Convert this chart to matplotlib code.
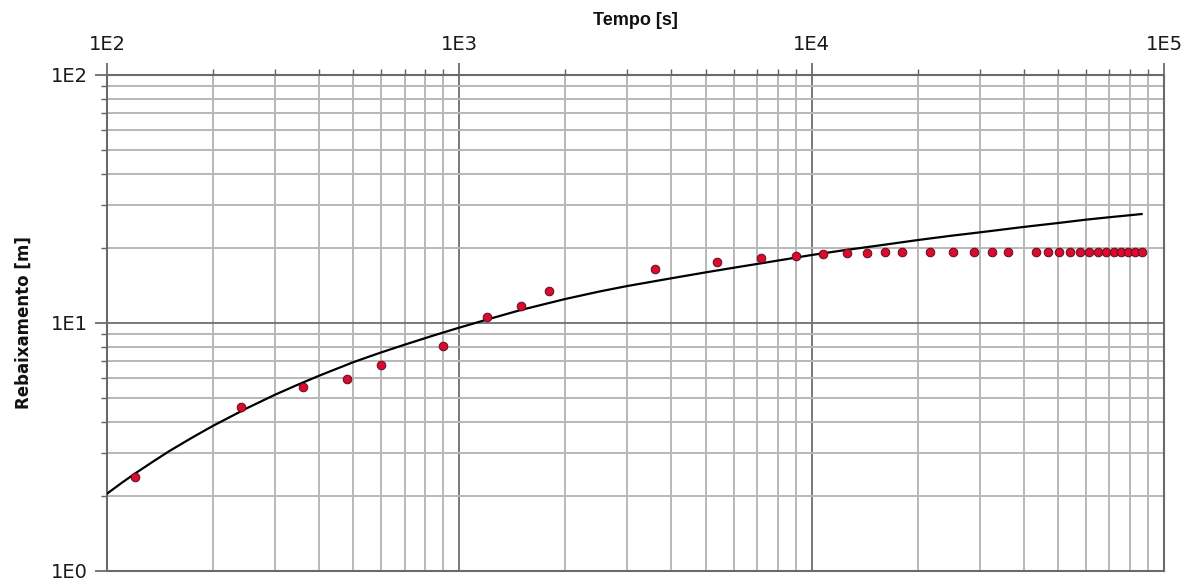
import numpy as np
import matplotlib
matplotlib.use("Agg")
import matplotlib.pyplot as plt
from matplotlib import font_manager
from matplotlib.ticker import LogLocator, FuncFormatter, NullFormatter

# Observed drawdown (pumping test)
time_obs = [120, 240, 360, 480, 600, 900, 1200, 1500, 1800, 3600, 5400, 7200, 9000,
            10800, 12600, 14400, 16200, 18000, 21600, 25200, 28800, 32400, 36000,
            43200, 46800, 50400, 54000, 57600, 61200, 64800, 68400, 72000, 75600,
            79200, 82800, 86400]
drawdown_obs = [2.39, 4.6, 5.5, 5.95, 6.75, 8.05, 10.6, 11.7, 13.5, 16.5, 17.6, 18.3, 18.6,
                19.0, 19.1, 19.2, 19.25, 19.3, 19.35, 19.4, 19.4, 19.4, 19.4,
                19.4, 19.4, 19.4, 19.4, 19.4, 19.4, 19.4, 19.4, 19.4, 19.4,
                19.4, 19.4, 19.4]

# Fitted type curve
time_fit = [100, 110, 120, 135, 150, 175, 200, 250, 300, 350, 400, 500, 600, 700, 850,
            1000, 1200, 1500, 2000, 2500, 3000, 4000, 5000, 6000, 7000, 8500, 10000,
            12500, 15000, 20000, 25000, 30000, 40000, 50000, 60000, 70000, 86400]
drawdown_fit = [2.05, 2.265, 2.47, 2.76, 3.04, 3.46, 3.85, 4.54, 5.14, 5.66, 6.13, 6.95,
                7.61, 8.18, 8.93, 9.58, 10.33, 11.3, 12.5, 13.4, 14.1, 15.15, 16.0, 16.7,
                17.3, 18.1, 18.8, 19.7, 20.4, 21.6, 22.5, 23.2, 24.4, 25.3, 26.1, 26.7,
                27.5]

x_limits = [1e2, 1e5]
y_limits = [1e0, 1e2]

installed = {f.name for f in font_manager.fontManager.ttflist}
title_family = "Liberation Sans Narrow" if "Liberation Sans Narrow" in installed else "Liberation Sans"

fig = plt.figure(figsize=(11.94, 5.83), dpi=100)
ax = fig.add_axes([107 / 1194, 1 - 571 / 583, (1164 - 107) / 1194, (571 - 75) / 583])

ax.set_xscale("log")
ax.set_yscale("log")
ax.set_xlim(x_limits)
ax.set_ylim(y_limits)

fmt = FuncFormatter(lambda v, pos: f"1E{int(round(np.log10(v)))}")
for axis in (ax.xaxis, ax.yaxis):
    axis.set_major_locator(LogLocator(base=10, numticks=10))
    axis.set_minor_locator(LogLocator(base=10, subs=np.arange(2, 10), numticks=20))
    axis.set_major_formatter(fmt)
    axis.set_minor_formatter(NullFormatter())

ax.xaxis.tick_top()
ax.xaxis.set_label_position("top")
ax.tick_params(axis="both", which="major", direction="out", length=9, width=1.2,
               color="#606060", labelsize=14, labelcolor="#1a1a1a")
ax.tick_params(axis="both", which="minor", direction="out", length=4, width=1.0,
               color="#606060")
ax.tick_params(axis="x", which="major", pad=6)
ax.tick_params(axis="y", which="major", pad=5)

ax.grid(True, which="minor", color="#b8b8b8", linewidth=1.4)
ax.grid(True, which="major", color="#6e6e6e", linewidth=1.3)
ax.set_axisbelow(True)

for name, sp in ax.spines.items():
    sp.set_color("#6a6a6a")
    sp.set_linewidth(1.5)

ax.plot(time_fit, drawdown_fit, color="black", linewidth=1.6, zorder=3)
ax.plot(time_obs, drawdown_obs, linestyle="none", marker="o", markersize=6.2,
        markerfacecolor="#dc0a2e", markeredgecolor="#5a1020", markeredgewidth=0.7,
        zorder=4)

ax.set_xlabel("Tempo [s]", fontsize=13, fontweight="bold", labelpad=7, color="#111111",
              family=title_family)
ax.set_ylabel("Rebaixamento [m]", fontsize=12, fontweight="bold", labelpad=13,
              color="#111111")

fig.savefig("out.png", dpi=100, facecolor="white")
